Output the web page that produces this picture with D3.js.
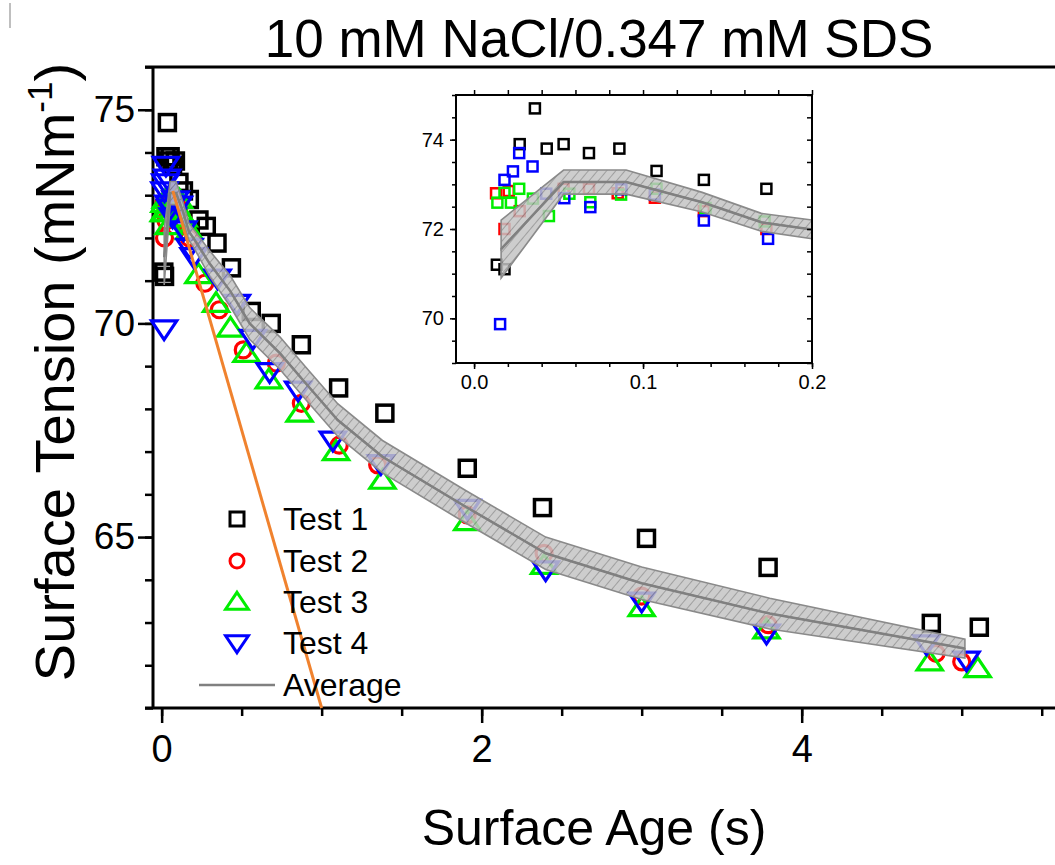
<!DOCTYPE html>
<html>
<head>
<meta charset="utf-8">
<script src="https://cdn.jsdelivr.net/npm/d3@7"></script>
<style>
  body { margin: 0; background: #fff; }
  text { font-family: "Liberation Sans", Arial, sans-serif; }
</style>
</head>
<body>
<script>
// surface age (s) and surface tension (mN/m) for each test
const t1x = [0.0135, 0.018, 0.027, 0.036, 0.043, 0.053, 0.068, 0.086, 0.108, 0.136, 0.173, 0.233, 0.279, 0.346, 0.436, 0.56, 0.685, 0.873, 1.106, 1.395, 1.91, 2.38, 3.03, 3.79, 4.81, 5.11];
const t1y = [71.2, 71.1, 73.9, 74.7, 73.8, 73.9, 73.7, 73.8, 73.3, 73.1, 72.9, 72.42, 72.27, 71.88, 71.3, 70.28, 70.0, 69.5, 68.49, 67.9, 66.61, 65.69, 64.97, 64.29, 62.98, 62.89];

const t2x = [0.013, 0.018, 0.0205, 0.027, 0.053, 0.068, 0.085, 0.107, 0.136, 0.173, 0.27, 0.36, 0.51, 0.717, 0.873, 1.11, 1.35, 1.91, 2.39, 3.0, 3.79, 4.84, 5.0];
const t2y = [72.8, 72.0, 72.85, 72.4, 72.9, 72.9, 72.8, 72.7, 72.4, 72.0, 70.94, 70.32, 69.38, 69.07, 68.13, 67.15, 66.69, 65.52, 64.62, 63.62, 62.95, 62.28, 62.08];

const t3x = [0.0138, 0.018, 0.0218, 0.0267, 0.0348, 0.0443, 0.0564, 0.0688, 0.087, 0.108, 0.137, 0.172, 0.23, 0.34, 0.43, 0.53, 0.67, 0.862, 1.09, 1.38, 1.91, 2.39, 3.0, 3.78, 4.8, 5.1];
const t3y = [72.59, 72.81, 72.59, 72.9, 72.68, 72.29, 72.79, 72.6, 72.77, 72.9, 72.47, 72.17, 71.14, 70.47, 69.89, 69.3, 68.68, 67.9, 67.0, 66.33, 65.36, 64.34, 63.35, 62.83, 62.08, 61.92];

const t4x = [0.0154, 0.018, 0.023, 0.0267, 0.0346, 0.0427, 0.0534, 0.0688, 0.0872, 0.107, 0.136, 0.174, 0.2, 0.35, 0.47, 0.57, 0.675, 0.853, 1.07, 1.37, 1.91, 2.4, 3.0, 3.78, 4.78, 5.03];
const t4y = [69.87, 73.1, 73.29, 73.7, 73.4, 72.79, 72.69, 72.49, 72.89, 72.77, 72.19, 71.78, 71.56, 71.06, 70.47, 69.65, 68.87, 68.44, 67.27, 66.72, 65.67, 64.23, 63.5, 62.75, 62.5, 62.12];

// average curve with its spread
const avgX = [0.016, 0.053, 0.09, 0.135, 0.17, 0.2, 0.3, 0.43, 0.55, 0.74, 0.9, 1.1, 1.38, 1.9, 2.4, 3.0, 3.8, 5.02];
const avgY = [71.55, 73.05, 73.05, 72.6, 72.15, 71.99, 71.4, 70.75, 70.0, 69.3, 68.6, 67.74, 66.88, 65.71, 64.62, 63.92, 63.21, 62.39];
const avgE = [0.65, 0.27, 0.27, 0.22, 0.2, 0.21, 0.3, 0.36, 0.37, 0.38, 0.38, 0.38, 0.38, 0.38, 0.38, 0.38, 0.36, 0.22];

// initial slope line
const slopeX = [0.07, 1.0];
const slopeY = [73.1, 61.0];

const legendNames = ["Test 1", "Test 2", "Test 3", "Test 4", "Average"];
const xMajor = [0, 2, 4];
const yMajor = [65, 70, 75];
const insetXMajor = [0, 0.1, 0.2];
const insetYMajor = [70, 72, 74];

const width = 1055;
const height = 865;
const colors = ["#000000", "#ff0000", "#00ee00", "#0000ff"];
const series = [[t1x, t1y], [t2x, t2y], [t3x, t3y], [t4x, t4y]]
    .map((s, i) => s[0].map((x, j) => ({x: x, y: s[1][j], k: i})));
const avg = avgX.map((x, i) => ({x: x, y: avgY[i], e: avgE[i]}));

const svg = d3.select("body")
    .append("svg")
    .attr("width", width)
    .attr("height", height);

const defs = svg.append("defs");
const pat = defs.append("pattern")
    .attr("id", "hatch")
    .attr("patternUnits", "userSpaceOnUse")
    .attr("width", 7)
    .attr("height", 7)
    .attr("patternTransform", "rotate(40)");
pat.append("rect").attr("width", 7).attr("height", 7).attr("fill", "#c4c4c4");
pat.append("line").attr("x1", 0).attr("y1", 0).attr("x2", 0).attr("y2", 7)
    .attr("stroke", "#777").attr("stroke-width", 1.4);

const xScale = d3.scaleLinear().domain([-0.054, 5.583]).range([153, 1055]);
const yScale = d3.scaleLinear().domain([61, 76]).range([708, 67]);

// little artifact mark at top left
svg.append("line").attr("x1", 10).attr("x2", 10).attr("y1", 3).attr("y2", 28)
    .attr("stroke", "#aaa").attr("stroke-width", 1.5);

// axes
const xAxisMinor = d3.axisBottom(xScale).tickValues(d3.range(0, 5.51, 0.5)).tickSize(8).tickFormat("");
const xAxis = d3.axisBottom(xScale).tickValues(xMajor).tickSize(15).tickPadding(12).tickFormat(d3.format("d"));
const yAxisMinor = d3.axisLeft(yScale).tickValues(d3.range(61, 76.01, 1)).tickSize(8).tickFormat("");
const yAxis = d3.axisLeft(yScale).tickValues(yMajor).tickSize(15).tickPadding(3).tickFormat(d3.format("d"));

[xAxisMinor, xAxis].forEach(a => {
    svg.append("g").attr("transform", "translate(0,708)").call(a)
        .call(g => g.select(".domain").remove())
        .call(g => g.selectAll("line").attr("stroke", "#000").attr("stroke-width", 2.5))
        .call(g => g.selectAll("text").attr("font-size", 38).attr("fill", "#000"));
});
[yAxisMinor, yAxis].forEach(a => {
    svg.append("g").attr("transform", "translate(153,0)").call(a)
        .call(g => g.select(".domain").remove())
        .call(g => g.selectAll("line").attr("stroke", "#000").attr("stroke-width", 2.5))
        .call(g => g.selectAll("text").attr("font-size", 37).attr("fill", "#000"));
});

svg.append("line").attr("x1", 145).attr("x2", 1055).attr("y1", 708).attr("y2", 708)
    .attr("stroke", "#000").attr("stroke-width", 3);
svg.append("line").attr("x1", 145).attr("x2", 1055).attr("y1", 67).attr("y2", 67)
    .attr("stroke", "#000").attr("stroke-width", 3);
svg.append("line").attr("x1", 153).attr("x2", 153).attr("y1", 67).attr("y2", 709)
    .attr("stroke", "#000").attr("stroke-width", 3);

// titles
svg.append("text")
    .attr("x", 599).attr("y", 57)
    .attr("text-anchor", "middle")
    .attr("font-size", 53)
    .text("10 mM NaCl/0.347 mM SDS");

svg.append("text")
    .attr("x", 594).attr("y", 845)
    .attr("text-anchor", "middle")
    .attr("font-size", 50)
    .text("Surface Age (s)");

const yl = svg.append("text")
    .attr("transform", "translate(74,372) rotate(-90)")
    .attr("text-anchor", "middle")
    .attr("font-size", 56);
yl.append("tspan").text("Surface Tension (mNm");
yl.append("tspan").attr("font-size", 35).attr("dy", -22).text("-1");
yl.append("tspan").attr("dy", 22).text(")");

// marker shapes
function marker(sel, k, s) {
    if (k === 0) {
        sel.append("rect").attr("x", -s / 2).attr("y", -s / 2).attr("width", s).attr("height", s);
    } else if (k === 1) {
        sel.append("circle").attr("r", s / 2);
    } else if (k === 2) {
        const h = s * 0.85;
        sel.append("path").attr("d", `M0,${-h * 0.6}L${s * 0.6},${h * 0.45}L${-s * 0.6},${h * 0.45}Z`);
    } else {
        const h = s * 0.85;
        sel.append("path").attr("d", `M0,${h * 0.6}L${s * 0.6},${-h * 0.45}L${-s * 0.6},${-h * 0.45}Z`);
    }
}

// average band, drawn for a given pair of scales
function band(g, xs, ys, data) {
    const upper = d3.area().x(d => xs(d.x)).y0(d => ys(d.y)).y1(d => ys(d.y + d.e));
    const lower = d3.area().x(d => xs(d.x)).y0(d => ys(d.y - d.e)).y1(d => ys(d.y));
    [upper, lower].forEach(a => {
        g.append("path").datum(data).attr("d", a)
            .attr("fill", "url(#hatch)").attr("fill-opacity", 0.85)
            .attr("stroke", "#8a8a8a").attr("stroke-width", 1.6);
    });
    g.append("path").datum(data)
        .attr("d", d3.line().x(d => xs(d.x)).y(d => ys(d.y)))
        .attr("fill", "none").attr("stroke", "#808080").attr("stroke-width", 2.5);
}

// main scatter
const pts = svg.append("g");
series.forEach((s, k) => {
    pts.selectAll(null)
        .data(s)
        .enter()
        .append("g")
        .attr("transform", d => `translate(${xScale(d.x)},${yScale(d.y)})`)
        .attr("fill", "none")
        .attr("stroke", colors[k])
        .attr("stroke-width", k === 0 ? 3.5 : 3.2)
        .each(function () { marker(d3.select(this), k, k === 0 ? 16 : (k === 1 ? 16 : 21)); });
});

band(svg.append("g"), xScale, yScale, avg);

// inset
const ix = d3.scaleLinear().domain([-0.0107, 0.2]).range([456, 812]);
const iy = d3.scaleLinear().domain([69, 75]).range([363, 95]);

defs.append("clipPath").attr("id", "insetClip")
    .append("rect").attr("x", 456).attr("y", 95).attr("width", 356).attr("height", 268);

svg.append("rect").attr("x", 456).attr("y", 95).attr("width", 356).attr("height", 268)
    .attr("fill", "#fff");

const inset = svg.append("g").attr("clip-path", "url(#insetClip)");
series.forEach((s, k) => {
    inset.selectAll(null)
        .data(s.filter(d => d.x < 0.19))
        .enter()
        .append("rect")
        .attr("x", d => ix(d.x) - 5)
        .attr("y", d => iy(d.y) - 5)
        .attr("width", 10)
        .attr("height", 10)
        .attr("fill", "none")
        .attr("stroke", colors[k])
        .attr("stroke-width", 2.5);
});
band(inset, ix, iy, avg);

const insetAxes = [
    [d3.axisBottom(ix).tickValues(d3.range(0, 0.201, 0.02)).tickSize(4).tickFormat(""), "translate(0,363)"],
    [d3.axisBottom(ix).tickValues(insetXMajor).tickSize(6).tickPadding(6).tickFormat(d3.format(".1f")), "translate(0,363)"],
    [d3.axisBottom(ix).tickValues(d3.range(0, 0.201, 0.02)).tickSize(-5).tickFormat(""), "translate(0,95)"],
    [d3.axisLeft(iy).tickValues(d3.range(69, 75.01, 0.5)).tickSize(4).tickFormat(""), "translate(456,0)"],
    [d3.axisLeft(iy).tickValues(insetYMajor).tickSize(6).tickPadding(6).tickFormat(d3.format("d")), "translate(456,0)"],
    [d3.axisRight(iy).tickValues(d3.range(69, 75.01, 0.5)).tickSize(-5).tickFormat(""), "translate(812,0)"]
];
insetAxes.forEach(a => {
    svg.append("g").attr("transform", a[1]).call(a[0])
        .call(g => g.select(".domain").remove())
        .call(g => g.selectAll("line").attr("stroke", "#000").attr("stroke-width", 1.5))
        .call(g => g.selectAll("text").attr("font-size", 20).attr("fill", "#000"));
});
svg.append("rect").attr("x", 456).attr("y", 95).attr("width", 356).attr("height", 268)
    .attr("fill", "none").attr("stroke", "#000").attr("stroke-width", 2);

// slope line
svg.append("path")
    .datum(slopeX.map((x, i) => ({x: x, y: slopeY[i]})))
    .attr("d", d3.line().x(d => xScale(d.x)).y(d => yScale(d.y)))
    .attr("stroke", "#f0822e")
    .attr("stroke-width", 3)
    .attr("fill", "none");

// legend
const legY = [519, 561, 602, 643, 685];
const leg = svg.append("g");
legendNames.forEach((name, i) => {
    if (i < 4) {
        const g = leg.append("g")
            .attr("transform", `translate(237,${legY[i]})`)
            .attr("fill", "none")
            .attr("stroke", colors[i])
            .attr("stroke-width", 3);
        marker(g, i, i === 0 ? 14 : (i === 1 ? 14 : 19));
    } else {
        leg.append("line").attr("x1", 199).attr("x2", 275).attr("y1", legY[i]).attr("y2", legY[i])
            .attr("stroke", "#808080").attr("stroke-width", 2.5);
    }
    leg.append("text")
        .attr("x", 283)
        .attr("y", legY[i] + 11)
        .attr("font-size", 32)
        .text(name);
});
</script>
</body>
</html>
